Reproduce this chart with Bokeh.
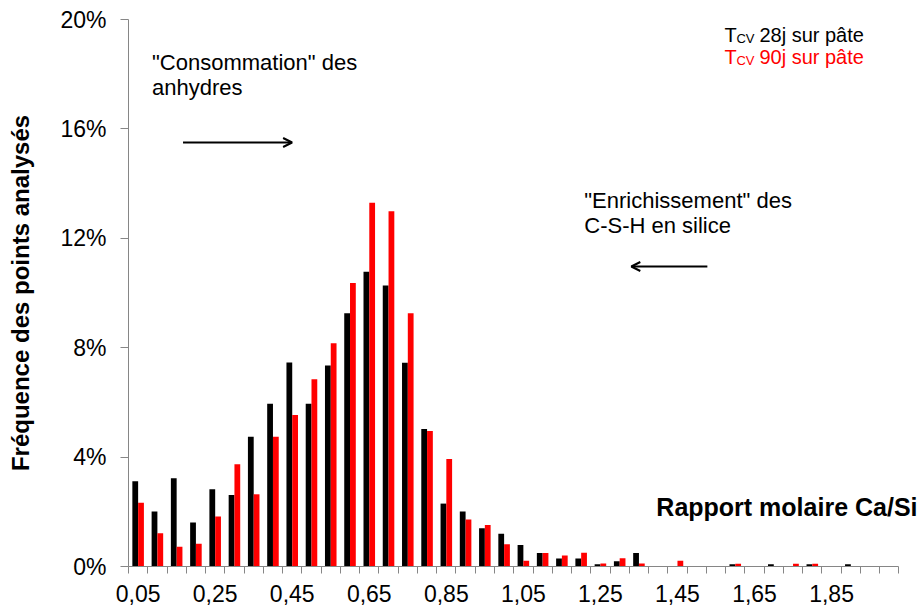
from bokeh.plotting import figure
from bokeh.models import (ColumnDataSource, FixedTicker, PrintfTickFormatter, Label,
                          Arrow, OpenHead, Range1d)
from bokeh.transform import dodge
from bokeh.embed import file_html
from bokeh.resources import INLINE

# ---- data -------------------------------------------------------------
categories = ["0,05", "0,10", "0,15", "0,20", "0,25", "0,30", "0,35", "0,40",
              "0,45", "0,50", "0,55", "0,60", "0,65", "0,70", "0,75", "0,80",
              "0,85", "0,90", "0,95", "1,00", "1,05", "1,10", "1,15", "1,20",
              "1,25", "1,30", "1,35", "1,40", "1,45", "1,50", "1,55", "1,60",
              "1,65", "1,70", "1,75", "1,80", "1,85", "1,90", "1,95", "2,00"]
tcv_28j = [3.12, 2.01, 3.23, 1.61, 2.82, 2.61, 4.74, 5.95, 7.46, 5.95,
           7.35, 9.26, 10.78, 10.27, 7.45, 5.03, 2.30, 2.01, 1.40, 1.20,
           0.79, 0.49, 0.29, 0.29, 0.08, 0.19, 0.49, 0.0, 0.0, 0.0,
           0.0, 0.08, 0.0, 0.08, 0.0, 0.08, 0.0, 0.08, 0.0, 0.0]
tcv_90j = [2.33, 1.22, 0.72, 0.83, 1.83, 3.74, 2.64, 4.74, 5.54, 6.85,
           8.16, 10.37, 13.30, 12.99, 9.26, 4.95, 3.93, 1.72, 1.52, 0.81,
           0.21, 0.49, 0.40, 0.50, 0.11, 0.30, 0.11, 0.0, 0.21, 0.0,
           0.0, 0.10, 0.0, 0.0, 0.10, 0.10, 0.0, 0.0, 0.0, 0.0]
y_ticks = [0, 4, 8, 12, 16, 20]
label_every = 4

FONT = "Liberation Sans"
AXIS_GREY = "#868686"

n = len(categories)
src = ColumnDataSource(dict(x=[i + 0.5 for i in range(n)], cat=categories,
                            b28=tcv_28j, b90=tcv_90j))

W, H = 918, 612
FRAME_L, FRAME_T, FRAME_B = 128.5, 19, 566
UNIT = 19.25                      # px per category
x_end = (W - FRAME_L) / UNIT      # frame runs to the right edge so the title is not clipped

p = figure(width=W, height=H, output_backend="svg", toolbar_location=None,
           x_range=Range1d(0, x_end), y_range=Range1d(0, 20),
           min_border_left=int(round(FRAME_L)), min_border_right=0,
           min_border_top=FRAME_T, min_border_bottom=H - FRAME_B)
p.outline_line_color = None
p.xgrid.grid_line_color = None
p.ygrid.grid_line_color = None
p.background_fill_color = "white"
p.border_fill_color = "white"

p.vbar(x=dodge("x", -0.15, range=p.x_range), top="b28", width=0.30, bottom=0,
       source=src, fill_color="#000000", line_color=None)
p.vbar(x=dodge("x", 0.15, range=p.x_range), top="b90", width=0.30, bottom=0,
       source=src, fill_color="#FF0000", line_color=None)

# x axis: labels at every 4th category centre, small ticks at boundaries
xa = p.xaxis[0]
label_pos = [i + 0.5 for i in range(0, n, label_every)]
xa.ticker = FixedTicker(ticks=label_pos, minor_ticks=list(range(n + 1)))
xa.bounds = (0, n)
xa.major_label_overrides = {i + 0.5: categories[i] for i in range(0, n, label_every)}
xa.major_tick_line_color = None
xa.minor_tick_line_color = AXIS_GREY
xa.minor_tick_out = 7
xa.minor_tick_in = 0
xa.axis_line_color = AXIS_GREY
xa.major_label_text_font = FONT
xa.major_label_text_font_size = "23px"
xa.major_label_text_color = "#000000"
xa.major_label_standoff = 11

ya = p.yaxis[0]
ya.ticker = FixedTicker(ticks=y_ticks)
ya.formatter = PrintfTickFormatter(format="%d%%")
ya.axis_line_color = AXIS_GREY
ya.major_tick_line_color = AXIS_GREY
ya.major_tick_out = 8
ya.major_tick_in = 0
ya.minor_tick_line_color = None
ya.major_label_text_font = FONT
ya.major_label_text_font_size = "23px"
ya.major_label_text_color = "#000000"
ya.major_label_standoff = 14
ya.axis_label = "Fréquence des points analysés"
ya.axis_label_text_font = FONT
ya.axis_label_text_font_style = "bold"
ya.axis_label_text_font_size = "24px"
ya.axis_label_text_color = "#000000"
ya.axis_label_standoff = 23

# helpers to place annotations in data units from page pixel positions
def ax(px):
    return (px - FRAME_L) / UNIT

def ay(py):
    return (FRAME_B - py) / ((FRAME_B - FRAME_T) / 20.0)

def txt(s, px, py, size, color="#000000", style="normal", align="left"):
    p.add_layout(Label(x=ax(px), y=ay(py), text=s, text_font=FONT,
                       text_font_size=size, text_color=color, text_font_style=style,
                       text_baseline="alphabetic", text_align=align))

# annotations
txt('"Consommation" des', 152, 62, "22px")
txt("anhydres", 152, 87, "22px")
txt('"Enrichissement" des', 584, 200, "22px")
txt("C-S-H en silice", 584, 225, "22px")
p.add_layout(Arrow(end=OpenHead(size=9, line_width=2, line_color="#000000"),
                   x_start=ax(183), y_start=ay(142), x_end=ax(292), y_end=ay(142),
                   line_width=2, line_color="#000000"))
p.add_layout(Arrow(end=OpenHead(size=9, line_width=2, line_color="#000000"),
                   x_start=ax(707), y_start=ay(266), x_end=ax(631), y_end=ay(266),
                   line_width=2, line_color="#000000"))

# x axis title inside the plot
txt("Rapport molaire Ca/Si", 917, 506, "25px", style="bold", align="right")

# legend-like text
for (lbl, color, base) in [("28j sur pâte", "#000000", 34), ("90j sur pâte", "#FF0000", 56)]:
    txt("T", 724, base, "20px", color)
    txt("CV", 736, base + 4, "13px", color)
    txt(lbl, 759, base, "20px", color)

open("out.html", "w").write(file_html(p, INLINE))
